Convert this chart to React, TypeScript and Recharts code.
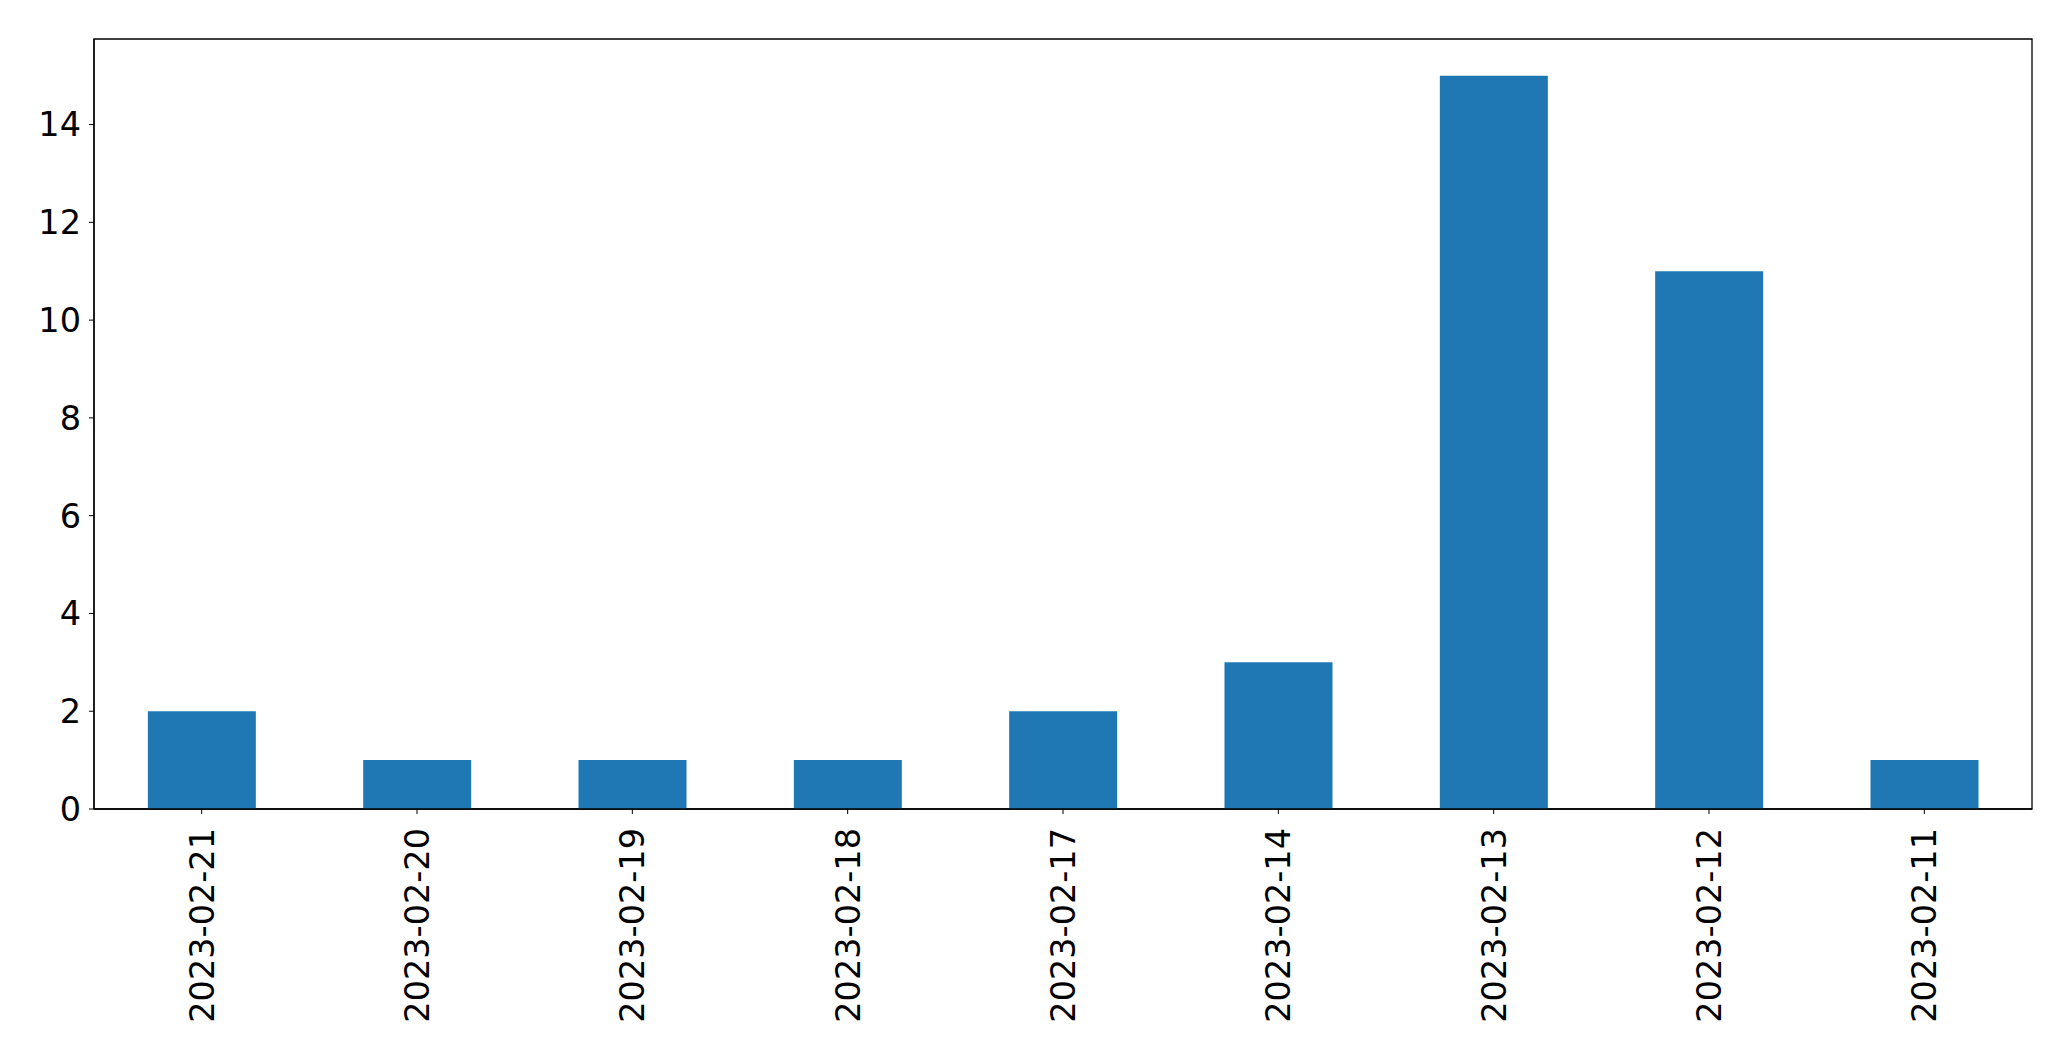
import { BarChart, Bar, XAxis, YAxis, ReferenceArea } from 'recharts';

const dates = ['2023-02-21', '2023-02-20', '2023-02-19', '2023-02-18', '2023-02-17', '2023-02-14', '2023-02-13', '2023-02-12', '2023-02-11'];
const counts = [2, 1, 1, 1, 2, 3, 15, 11, 1];
const yTicks = [0, 2, 4, 6, 8, 10, 12, 14];
const yMax = 15.75;

const data = dates.map((d, i) => ({ date: d, count: counts[i] }));

const FONT = 'DejaVu Sans, sans-serif';

function DateTick(props: any) {
  const { x, y, payload } = props;
  return (
    <text
      x={x}
      y={y + 12}
      transform={`rotate(-90, ${x}, ${y + 12})`}
      textAnchor="end"
      dy="0.36em"
      fontFamily={FONT}
      fontSize={33.5}
      fill="#000"
    >
      {payload.value}
    </text>
  );
}

export default function App() {
  return (
    <div style={{ position: 'absolute', left: 0, top: 0, width: 2071, height: 1061, background: '#fff' }}>
      <BarChart
        width={2071}
        height={1061}
        data={data}
        margin={{ top: 39, right: 39, left: 0, bottom: 0 }}
        barCategoryGap="25%"
      >
        <XAxis
          dataKey="date"
          height={252}
          interval={0}
          tickSize={5}
          tickLine={{ stroke: '#000' }}
          axisLine={{ stroke: '#000', strokeWidth: 1.3 }}
          tick={<DateTick />}
        />
        <YAxis
          width={94}
          domain={[0, yMax]}
          ticks={yTicks}
          interval={0}
          tickSize={5}
          tickMargin={8}
          tickLine={{ stroke: '#000' }}
          axisLine={{ stroke: '#000', strokeWidth: 1.3 }}
          tick={{ fill: '#000', fontSize: 33.5, fontFamily: FONT }}
        />
        <Bar dataKey="count" fill="#1f77b4" isAnimationActive={false} />
        {/* full frame, like matplotlib's four spines */}
        <ReferenceArea
          x1={dates[0]}
          x2={dates[dates.length - 1]}
          y1={0}
          y2={yMax}
          fill="none"
          fillOpacity={0}
          stroke="#000"
          strokeWidth={1.3}
          strokeOpacity={1}
          ifOverflow="visible"
        />
      </BarChart>
    </div>
  );
}
